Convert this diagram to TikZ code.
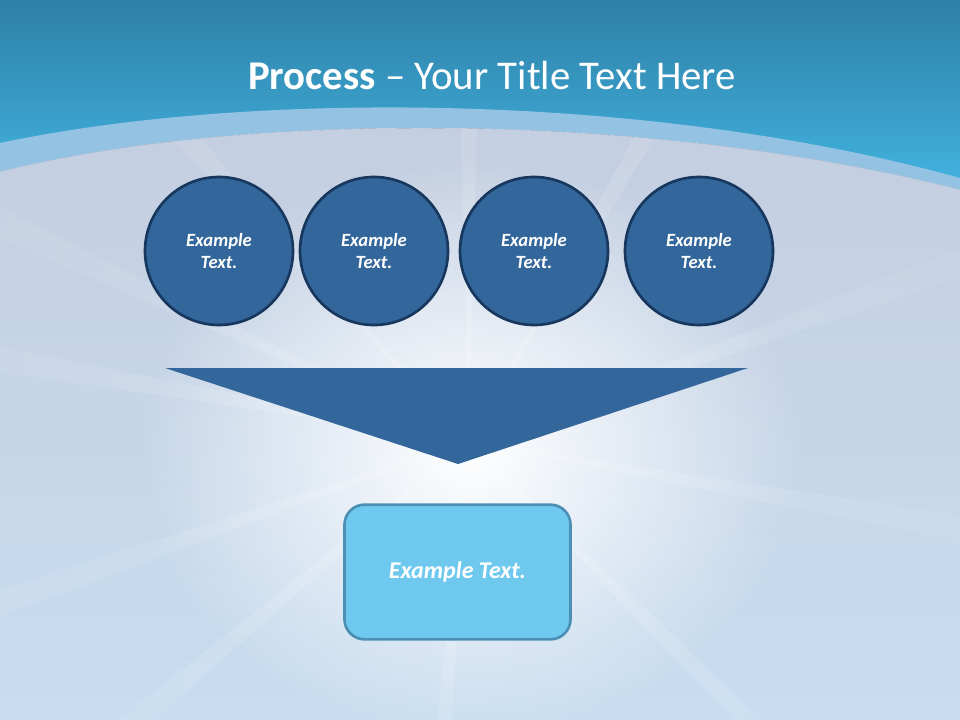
\documentclass[tikz,border=0pt]{standalone}
\usepackage{fontspec}
\setmainfont{Carlito}
\usetikzlibrary{fadings}
\usepackage{xcolor}

\definecolor{skytop}{HTML}{2E80A6}
\definecolor{skybottom}{HTML}{43B6E4}
\definecolor{bandblue}{HTML}{93C2E2}
\definecolor{paletop}{HTML}{C4CEE0}
\definecolor{palebottom}{HTML}{C8DDF0}
\definecolor{circfill}{HTML}{33669A}
\definecolor{circborder}{HTML}{17375E}
\definecolor{boxfill}{HTML}{6FC8EE}
\definecolor{boxborder}{HTML}{4C8FB5}

\tikzfading[name=glow, inner color=transparent!0, outer color=transparent!100]

\begin{document}
\begin{tikzpicture}[
x=0.75pt, y=-0.75pt,
circ/.style={draw=circborder, line width=2pt, fill=circfill, circle, 
minimum size=111pt, inner sep=0pt, 
align=center, text=white, 
font=\fontsize{14}{17}\selectfont\bfseries\itshape}, 
box/.style={draw=boxborder, line width=2pt, fill=boxfill, rectangle, 
rounded corners=15pt, 
minimum width=169.5pt, 
minimum height=101pt, 
align=center, text=white, 
font=\fontsize{18}{21}\selectfont\bfseries\itshape}, 
funnel/.style={fill=circfill} 
]

\useasboundingbox (0,0) rectangle (960,720);

% background
\fill[top color=skytop, bottom color=skybottom] (0,0) rectangle (960,200);
\fill[bandblue] (0,143) .. controls (250,90) and (650,92) .. (960,178) -- (960,720) -- (0,720) -- cycle;
\fill[top color=paletop, bottom color=palebottom] (0,172) .. controls (250,110) and (650,112) .. (960,190) -- (960,720) -- (0,720) -- cycle;
\draw[paletop, line width=0.6pt] (0,172) .. controls (250,110) and (650,112) .. (960,190);

% light burst
\begin{scope}
\clip (0,172) .. controls (250,110) and (650,112) .. (960,190) -- (960,720) -- (0,720) -- cycle;
\fill[white, opacity=0.2, path fading=glow] 
(470,440) -- +(225.5:700) -- +(228.5:700) -- cycle 
(470,440) -- +(268.5:700) -- +(271.5:700) -- cycle 
(470,440) -- +(298.5:700) -- +(301.5:700) -- cycle 
(470,440) -- +(338.5:700) -- +(341.5:700) -- cycle 
(470,440) -- +(8.5:700) -- +(11.5:700) -- cycle 
(470,440) -- +(43.5:700) -- +(46.5:700) -- cycle 
(470,440) -- +(93.5:700) -- +(96.5:700) -- cycle 
(470,440) -- +(138.5:700) -- +(141.5:700) -- cycle 
(470,440) -- +(159.5:700) -- +(162.5:700) -- cycle 
(470,440) -- +(188.5:700) -- +(191.5:700) -- cycle 
(470,440) -- +(203.5:700) -- +(206.5:700) -- cycle;
\end{scope}
\fill[white, path fading=glow] (470,450) ellipse (330 and 290);

% title
\node[text=white, font=\fontsize{30.6}{36}\selectfont] (title) at (492,75) {\textbf{Process} -- Your Title Text Here};

\node[circ] (item1) at (219,251) {Example\\Text.};
\node[circ] (item2) at (374,251) {Example\\Text.};
\node[circ] (item3) at (534,251) {Example\\Text.};
\node[circ] (item4) at (699,251) {Example\\Text.};

\fill[funnel] (165,368) -- (748,368) -- (458,464) -- cycle;

\node[box] (result) at (457.5,572) {Example Text.};

\end{tikzpicture}
\end{document}
